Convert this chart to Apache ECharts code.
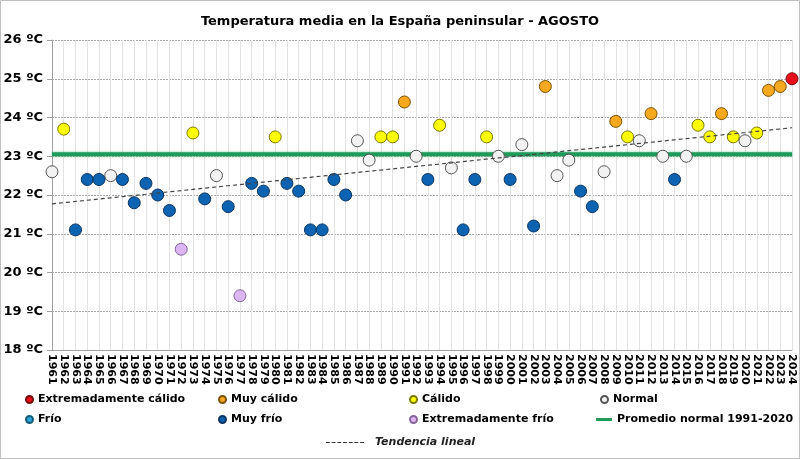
<!DOCTYPE html>
<html>
<head>
<meta charset="utf-8">
<script src="https://cdn.jsdelivr.net/npm/echarts@6/dist/echarts.min.js"></script>
<style>
    html, body { margin: 0; padding: 0; background: #fff; }
    #chart { width: 800px; height: 459px; }
</style>
</head>
<body>
<div id="chart"></div>
<script>
// años (categorías del eje X)
var years = ['1961', '1962', '1963', '1964', '1965', '1966', '1967', '1968', '1969', '1970',
    '1971', '1972', '1973', '1974', '1975', '1976', '1977', '1978', '1979', '1980',
    '1981', '1982', '1983', '1984', '1985', '1986', '1987', '1988', '1989', '1990',
    '1991', '1992', '1993', '1994', '1995', '1996', '1997', '1998', '1999', '2000',
    '2001', '2002', '2003', '2004', '2005', '2006', '2007', '2008', '2009', '2010',
    '2011', '2012', '2013', '2014', '2015', '2016', '2017', '2018', '2019', '2020',
    '2021', '2022', '2023', '2024'];

// temperatura media de agosto (ºC)
var temps = [22.6, 23.7, 21.1, 22.4, 22.4, 22.5, 22.4, 21.8, 22.3, 22.0,
    21.6, 20.6, 23.6, 21.9, 22.5, 21.7, 19.4, 22.3, 22.1, 23.5,
    22.3, 22.1, 21.1, 21.1, 22.4, 22.0, 23.4, 22.9, 23.5, 23.5,
    24.4, 23.0, 22.4, 23.8, 22.7, 21.1, 22.4, 23.5, 23.0, 22.4,
    23.3, 21.2, 24.8, 22.5, 22.9, 22.1, 21.7, 22.6, 23.9, 23.5,
    23.4, 24.1, 23.0, 22.4, 23.0, 23.8, 23.5, 24.1, 23.5, 23.4,
    23.6, 24.7, 24.8, 25.0];

// carácter de cada año
var classes = ['N', 'C', 'MF', 'MF', 'MF', 'N', 'MF', 'MF', 'MF', 'MF',
    'MF', 'EF', 'C', 'MF', 'N', 'MF', 'EF', 'MF', 'MF', 'C',
    'MF', 'MF', 'MF', 'MF', 'MF', 'MF', 'N', 'N', 'C', 'C',
    'MC', 'N', 'MF', 'C', 'N', 'MF', 'MF', 'C', 'N', 'MF',
    'N', 'MF', 'MC', 'N', 'N', 'MF', 'MF', 'N', 'MC', 'C',
    'N', 'MC', 'N', 'MF', 'N', 'C', 'C', 'MC', 'C', 'N',
    'C', 'MC', 'MC', 'EC'];

var normalValue = 23.05;   // promedio 1991-2020

var yTicks = [18, 19, 20, 21, 22, 23, 24, 25, 26];

var categories = [
    { code: 'EC', name: 'Extremadamente cálido', color: '#e8101a', border: '#7a0a0a' },
    { code: 'MC', name: 'Muy cálido', color: '#f6a81e', border: '#7a5200' },
    { code: 'C', name: 'Cálido', color: '#ffff00', border: '#7a7a00' },
    { code: 'N', name: 'Normal', color: '#f2f2f2', border: '#555555' },
    { code: 'F', name: 'Frío', color: '#2aa6d8', border: '#145a78' },
    { code: 'MF', name: 'Muy frío', color: '#0b63b1', border: '#0a3360' },
    { code: 'EF', name: 'Extremadamente frío', color: '#dcb6f2', border: '#85669a' }
];

// recta de regresión
function trendLine(values) {
    var n = values.length, sx = 0, sy = 0, sxy = 0, sxx = 0;
    for (var i = 0; i < n; i++) {
        sx += i; sy += values[i]; sxy += i * values[i]; sxx += i * i;
    }
    var b = (n * sxy - sx * sy) / (n * sxx - sx * sx);
    var a = (sy - b * sx) / n;
    return values.map(function (v, i) { return +(a + b * i).toFixed(3); });
}

var dom = document.getElementById('chart');
var myChart = echarts.init(dom, null, { renderer: 'canvas' });

var font = 'DejaVu Sans, Verdana, sans-serif';

var series = [];
series.push({
    name: 'Promedio normal 1991-2020',
    type: 'line',
    data: years.map(function () { return normalValue; }),
    symbol: 'none',
    lineStyle: { color: '#1e9a5a', width: 4, shadowColor: 'rgba(40,170,100,0.6)', shadowBlur: 3 },
    itemStyle: { color: '#1e9a5a' },
    z: 1,
    silent: true
});

categories.forEach(function (c) {
    var pts = [];
    for (var i = 0; i < years.length; i++) {
        if (classes[i] === c.code) pts.push([years[i], temps[i]]);
    }
    series.push({
        name: c.name,
        type: 'scatter',
        data: pts,
        symbolSize: 12,
        itemStyle: { color: c.color, borderColor: c.border, borderWidth: 1, opacity: 1 },
        z: 3
    });
});

series.push({
    name: 'Tendencia lineal',
    type: 'line',
    data: trendLine(temps),
    symbol: 'none',
    lineStyle: { color: '#444', width: 1.2, type: [4, 3] },
    itemStyle: { color: '#444' },
    z: 4,
    silent: true
});

var legendText = { fontFamily: font, fontWeight: 'bold', fontSize: 11, color: '#000' };
function oneLegend(item, left, top, w, extra) {
    var l = {
        data: [item],
        left: left,
        top: top,
        padding: 0,
        itemWidth: w,
        itemHeight: 7,
        textStyle: legendText,
        selectedMode: false
    };
    return Object.assign(l, extra || {});
}

// guiones para el icono de la tendencia
var dashIcon = 'path://M0,0h4v1h-4z M6,0h4v1h-4z M12,0h4v1h-4z M18,0h4v1h-4z M24,0h4v1h-4z M30,0h4v1h-4z M36,0h4v1h-4z';

var option = {
    animation: false,
    title: {
        text: 'Temperatura media en la España peninsular - AGOSTO',
        left: 'center',
        top: 10,
        textStyle: { fontFamily: font, fontWeight: 'bold', fontSize: 13, color: '#000' }
    },
    graphic: [{
        type: 'rect',
        shape: { x: 0.5, y: 0.5, width: 799, height: 458 },
        style: { fill: 'none', stroke: '#c0c0c0', lineWidth: 1 },
        silent: true
    }],
    legend: [
        oneLegend('Extremadamente cálido', 25, 394, 7),
        oneLegend('Muy cálido', 218, 394, 7),
        oneLegend('Cálido', 409, 394, 7),
        oneLegend('Normal', 600, 394, 7),
        oneLegend('Frío', 25, 414, 7),
        oneLegend('Muy frío', 218, 414, 7),
        oneLegend('Extremadamente frío', 409, 414, 7),
        oneLegend({ name: 'Promedio normal 1991-2020', icon: 'rect', itemStyle: { color: '#1e9a5a', borderWidth: 0 } },
            596, 414, 16, { itemHeight: 3 }),
        oneLegend({ name: 'Tendencia lineal', icon: dashIcon, itemStyle: { color: '#333', borderWidth: 0 } },
            326, 437, 38, {
                itemHeight: 1.5,
                textStyle: Object.assign({}, legendText, { fontStyle: 'italic', color: '#222', padding: [0, 0, 0, 6] })
            })
    ],
    grid: {
        left: 52,
        right: 8,
        top: 40,
        bottom: 109,
        containLabel: false
    },
    xAxis: {
        type: 'category',
        data: years,
        boundaryGap: false,
        axisLine: { lineStyle: { color: '#a0a0a0' } },
        axisTick: { show: false },
        axisLabel: {
            interval: 0,
            rotate: -90,
            margin: 4,
            fontFamily: font,
            fontWeight: 'bold',
            fontSize: 11,
            color: '#000'
        },
        splitLine: { show: true, lineStyle: { color: '#e2e2e2', width: 1 } }
    },
    yAxis: {
        type: 'value',
        min: yTicks[0],
        max: yTicks[yTicks.length - 1],
        interval: 1,
        axisLine: { show: true, lineStyle: { color: '#a0a0a0' } },
        axisTick: { show: true, length: 5, lineStyle: { color: '#a0a0a0' } },
        axisLabel: {
            formatter: '{value} ºC',
            margin: 9,
            fontFamily: font,
            fontWeight: 'bold',
            fontSize: 13,
            color: '#000'
        },
        splitLine: { show: true, lineStyle: { color: '#a8a8a8', type: [2, 1] } }
    },
    series: series
};

myChart.setOption(option);
window.addEventListener('resize', myChart.resize);
</script>
</body>
</html>
